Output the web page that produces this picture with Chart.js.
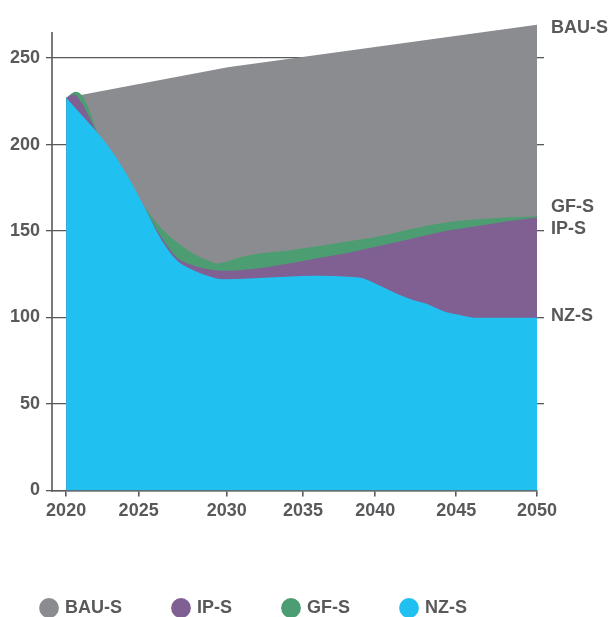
<!DOCTYPE html>
<html>
<head>
<meta charset="utf-8">
<script src="https://cdn.jsdelivr.net/npm/chart.js"></script>
<style>
  html, body { margin: 0; padding: 0; background: #ffffff; }
  #wrap { width: 611px; height: 617px; position: relative; }
</style>
</head>
<body>
<div id="wrap"><canvas id="chart"></canvas></div>
<script>
// ---------- data ----------
const seriesNames = ['BAU-S', 'IP-S', 'GF-S', 'NZ-S'];

const bauYears  = [2020, 2030.3, 2050];
const bauValues = [227, 244.7, 269.3];

const ipYears  = [2020, 2020.5, 2021, 2021.5, 2022, 2023, 2024, 2025, 2026, 2027, 2028, 2029, 2030, 2032, 2034, 2036, 2038, 2040, 2042, 2044, 2046, 2048, 2050];
const ipValues = [227, 229, 224, 215.5, 206.5, 194.5, 180, 163.3, 147.5, 135.2, 130.5, 128, 127, 128.2, 131, 134.3, 137.5, 141.5, 145.6, 149.7, 152.6, 155.5, 157.8];

const gfYears  = [2020, 2020.6, 2021, 2021.5, 2022, 2023, 2024, 2025, 2026, 2027, 2028, 2029, 2029.6, 2031, 2032, 2034, 2036, 2038, 2040, 2042, 2044, 2046, 2048, 2050];
const gfValues = [227, 230.5, 228.5, 219.5, 206.8, 194.5, 180, 164, 152.2, 143.9, 137.5, 133.1, 131.3, 134.6, 136.6, 138.6, 141.2, 144.1, 147, 151.2, 154.7, 156.6, 157.8, 158.6];

const nzYears  = [2020, 2021, 2022, 2023, 2024, 2025, 2026, 2027, 2028, 2029, 2030, 2032, 2034, 2036, 2038, 2039, 2040, 2041, 2042, 2043, 2044, 2045, 2046, 2048, 2050];
const nzValues = [227, 217, 206.8, 195, 180.5, 163.6, 146, 133.5, 127.8, 124.2, 122.1, 122.7, 123.6, 124.1, 123.5, 122.4, 118.3, 114.1, 110.4, 107.8, 103.8, 101.6, 99.9, 99.8, 99.8];

const xTickLabels = ['2020', '2025', '2030', '2035', '2040', '2045', '2050'];
const xTickValues = [2020, 2024.62, 2030.24, 2035.09, 2039.69, 2044.85, 2050];
const yTickValues = [0, 50, 100, 150, 200, 250];

// ---------- styling ----------
const INK = '#58595b';
const FONT = "'Liberation Sans', Arial, Helvetica, sans-serif";
const COLORS = { 'BAU-S': '#8b8c90', 'IP-S': '#806092', 'GF-S': '#4c9e72', 'NZ-S': '#20c1f0' };

const pts = (xs, ys) => xs.map((x, i) => ({ x: x, y: ys[i] }));

function areaSet(name, xs, ys, order, tension) {
  return {
    label: name,
    data: pts(xs, ys),
    backgroundColor: COLORS[name],
    borderColor: COLORS[name],
    borderWidth: 0,
    pointRadius: 0,
    fill: 'origin',
    order: order,
    tension: tension,
    cubicInterpolationMode: tension ? 'monotone' : 'default'
  };
}

// labels at the right end of each area
const labelNudge = { 'BAU-S': 3, 'GF-S': -9, 'IP-S': 11, 'NZ-S': -2 };
const rightLabels = {
  id: 'rightLabels',
  afterDatasetsDraw(chart) {
    const ctx = chart.ctx, ys = chart.scales.y;
    ctx.save();
    ctx.font = 'bold 18px ' + FONT;
    ctx.fillStyle = INK;
    ctx.textAlign = 'left';
    ctx.textBaseline = 'middle';
    chart.data.datasets.forEach(ds => {
      const last = ds.data[ds.data.length - 1];
      ctx.fillText(ds.label, chart.chartArea.right + 14, ys.getPixelForValue(last.y) + labelNudge[ds.label]);
    });
    ctx.restore();
  }
};

// left axis line (stops a little below the top of the plot)
const axisLine = {
  id: 'axisLine',
  afterDatasetsDraw(chart) {
    const ctx = chart.ctx, ys = chart.scales.y, x = chart.chartArea.left;
    ctx.save();
    ctx.strokeStyle = INK;
    ctx.lineWidth = 1.6;
    ctx.beginPath();
    ctx.moveTo(x, ys.getPixelForValue(0) + 1);
    ctx.lineTo(x, ys.getPixelForValue(265));
    ctx.stroke();
    ctx.restore();
  }
};

// place the legend row like the reference
const legendPlace = {
  id: 'legendPlace',
  afterLayout(chart) {
    const L = chart.legend;
    if (!L) return;
    const pad = L.options.labels.padding;
    const dx = -10;
    const dy = 608 - (L.top + pad + 9);
    L.left += dx; L.right += dx;
    L.top += dy; L.bottom += dy;
  }
};

new Chart(document.getElementById('chart'), {
  type: 'line',
  data: {
    datasets: [
      areaSet('BAU-S', bauYears, bauValues, 4, 0),
      areaSet('IP-S', ipYears, ipValues, 2, 0.4),
      areaSet('GF-S', gfYears, gfValues, 3, 0.4),
      areaSet('NZ-S', nzYears, nzValues, 1, 0.4)
    ]
  },
  options: {
    responsive: true,
    maintainAspectRatio: false,
    devicePixelRatio: 1,
    animation: false,
    layout: { padding: { top: 20, right: 67, bottom: 14.5, left: 0 } },
    plugins: {
      tooltip: { enabled: false },
      legend: {
        position: 'bottom',
        align: 'start',
        labels: {
          usePointStyle: true,
          pointStyle: 'circle',
          boxWidth: 14,
          boxHeight: 14,
          padding: 52,
          color: INK,
          font: { family: FONT, size: 18, weight: 'bold' },
          sort: (a, b) => a.datasetIndex - b.datasetIndex
        }
      }
    },
    scales: {
      x: {
        type: 'linear',
        min: 2019.1,
        max: 2050,
        z: 1,
        afterBuildTicks(scale) { scale.ticks = xTickValues.map(v => ({ value: v })); },
        afterFit(scale) { scale.height = 32; },
        ticks: {
          autoSkip: false,
          maxRotation: 0,
          padding: 4,
          color: INK,
          font: { family: FONT, size: 18, weight: 'bold' },
          callback: (v, i) => xTickLabels[i]
        },
        grid: { drawOnChartArea: false, drawTicks: true, tickLength: 6, color: INK, lineWidth: 1.6 },
        border: { display: true, color: INK, width: 1.6 }
      },
      y: {
        position: 'left',
        min: 0,
        max: 272,
        afterBuildTicks(scale) { scale.ticks = yTickValues.map(v => ({ value: v })); },
        afterFit(scale) { scale.width = 52; },
        ticks: {
          padding: 6,
          color: INK,
          font: { family: FONT, size: 18, weight: 'bold' }
        },
        grid: { color: INK, lineWidth: 1.3, tickLength: 6, drawTicks: true },
        border: { display: false }
      },
      y2: {
        position: 'right',
        min: 0,
        max: 272,
        afterBuildTicks(scale) { scale.ticks = yTickValues.filter(v => v > 0).map(v => ({ value: v })); },
        afterFit(scale) { scale.width = 7; },
        ticks: { display: false },
        grid: { drawOnChartArea: false, drawTicks: true, tickLength: 7, color: INK, lineWidth: 1.3 },
        border: { display: false }
      }
    }
  },
  plugins: [rightLabels, axisLine, legendPlace]
});
</script>
</body>
</html>
